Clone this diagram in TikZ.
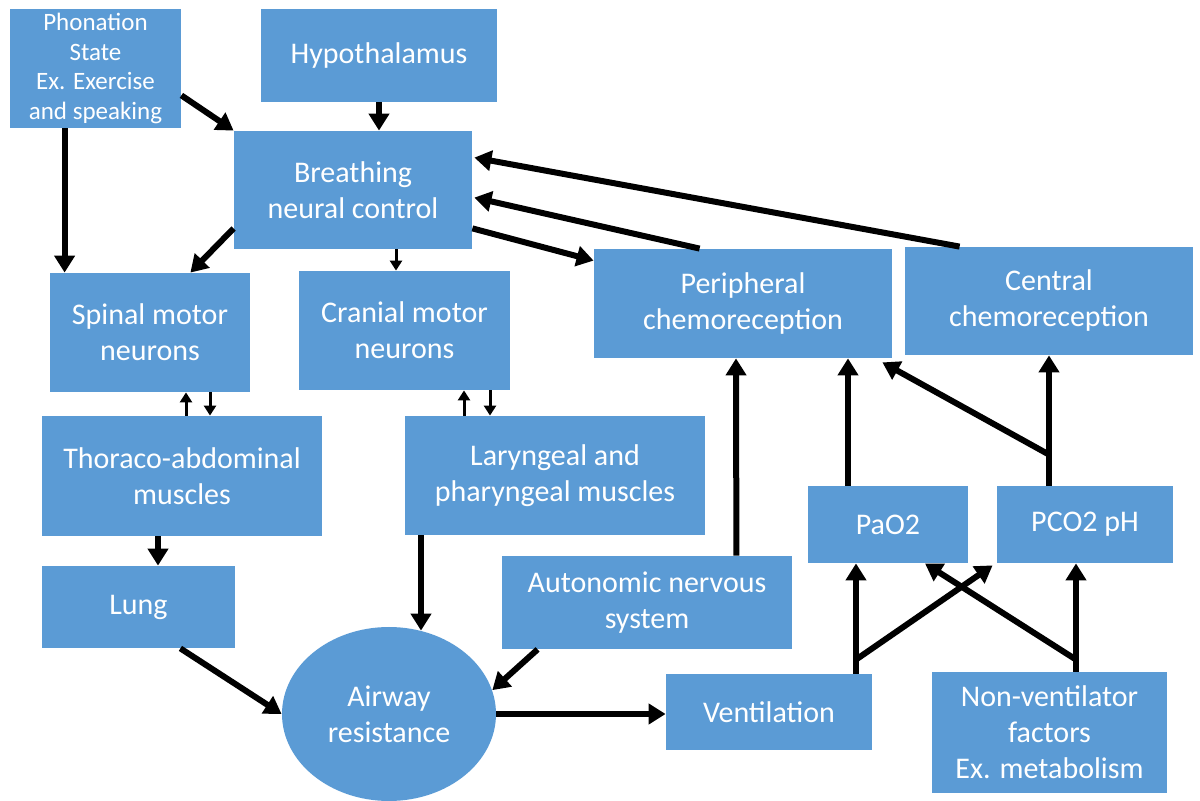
\documentclass[tikz,border=0pt]{standalone}
\usepackage{fontspec}
\setmainfont{Carlito}
\usepackage{tikz}
\usetikzlibrary{arrows.meta,calc,shapes.geometric}
\definecolor{boxblue}{RGB}{91, 155, 213}
\tikzset{
  box/.style={fill=boxblue, text=white, align=center, inner sep=0pt, font=\fontsize{15}{18}\selectfont},
  bigarrow/.style={line width=3pt, -{Triangle[length=8.5pt, width=10pt]}},
  smallarrow/.style={line width=1.5pt, -{Triangle[length=5pt, width=6pt]}},
}

\begin{document}
\begin{tikzpicture}[x=0.5pt, y=-0.5pt]
            \useasboundingbox (0,0) rectangle (1200,801);
            \node[box, minimum width=85.5pt,  minimum height=59.5pt, font=\fontsize{12.5}{14.7}\selectfont]
                 (phonation) at ( 95.5,  68.5) {Phonation\\State\\Ex. Exercise\\and speaking};
            \node[box, minimum width=118pt,   minimum height=46.5pt] (hypo)      at ( 379.0,  55.5) {Hypothalamus};
            \node[box, minimum width=119pt,   minimum height=59pt]   (breathing) at ( 353.0, 190.0) {Breathing\\neural control};
            \node[box, minimum width=100pt,   minimum height=59.5pt] (spinal)    at ( 150.0, 332.5) {Spinal motor\\neurons};
            \node[box, minimum width=105.5pt, minimum height=59.5pt] (cranial)   at ( 404.5, 330.5) {Cranial motor\\neurons};
            \node[box, minimum width=149pt,   minimum height=54.5pt] (periph)    at ( 743.0, 303.5) {Peripheral\\chemoreception};
            \node[box, minimum width=144pt,   minimum height=54pt]   (central)   at (1049.0, 301.0) {Central\\chemoreception};
            \node[box, minimum width=140pt,   minimum height=60pt]   (thoraco)   at ( 182.0, 476.0) {Thoraco-abdominal\\muscles};
            \node[box, minimum width=150pt,   minimum height=59.5pt] (laryn)     at ( 555.0, 475.5) {Laryngeal and\\pharyngeal muscles};
            \node[box, minimum width=96.5pt,  minimum height=41pt]   (lung)      at ( 138.5, 607.0) {Lung};
            \node[box, minimum width=145pt,   minimum height=46.5pt] (auton)     at ( 647.0, 602.5) {Autonomic nervous\\system};
            \node[box, minimum width=80pt,    minimum height=38.5pt] (pao)       at ( 888.0, 524.5) {PaO2};
            \node[box, minimum width=88pt,    minimum height=38.5pt] (pco)       at (1085.0, 524.5) {PCO2 pH};
            \node[box, minimum width=103pt,   minimum height=38pt]   (vent)      at ( 769.0, 712.0) {Ventilation};
            \node[box, minimum width=117.5pt, minimum height=60.5pt] (nonvent)   at (1049.5, 732.5) {Non-ventilator\\factors\\Ex. metabolism};
            \node[box, ellipse, minimum width=107pt, minimum height=87pt] (airway) at ( 389.0, 714.0) {Airway\\resistance};

            \coordinate (pcobranch)  at ($(pco.north)+(-36,-31)$);
            \coordinate (ventbranch) at ($(vent.north)+(87,-14)$);
            \coordinate (nvbranch)   at ($(nonvent.north)+(26.5,-12)$);

            \draw[bigarrow]   ($(phonation.south east)+(0,-33)$) -- (breathing.north west);
            \draw[bigarrow]   ($(phonation.south west)+(55,0)$)  -- ($(spinal.north west)+(15,0)$);
            \draw[bigarrow]   (hypo.south)                       -- (hypo.south |- breathing.north);
            \draw[bigarrow]   ($(breathing.south west)+(0,-21)$) -- ($(spinal.north east)+(-60,0)$);
            \draw[smallarrow] ($(breathing.south)+(43,0)$)       -- ($(cranial.north)+(-8.5,0)$);
            \draw[bigarrow]   ($(breathing.south east)+(0,-21)$) -- ($(periph.north west)+(0,12)$);
            \draw[bigarrow]   ($(periph.north west)+(106,0)$)    -- ($(breathing.north east)+(2,67)$);
            \draw[bigarrow]   ($(central.north west)+(55,0)$)    -- ($(breathing.north east)+(2,27)$);
            \draw[smallarrow] ($(thoraco.north)+(4,0)$)          -- ($(spinal.south)+(36,0)$);
            \draw[smallarrow] ($(spinal.south)+(60,0)$)          -- ($(thoraco.north)+(28,0)$);
            \draw[smallarrow] ($(laryn.north)+(-91,0)$)          -- ($(cranial.south)+(59.5,0)$);
            \draw[smallarrow] ($(cranial.south)+(85.5,0)$)       -- ($(laryn.north)+(-65,0)$);
            \draw[bigarrow]   ($(thoraco.south)+(-24,0)$)        -- ($(lung.north)+(19.5,0)$);
            \draw[bigarrow]   ($(laryn.south)+(-134,0)$)         -- ($(airway.north)+(32,4)$);
            \draw[bigarrow]   ($(lung.south east)+(-55,0)$)      -- (airway.west);
            \draw[bigarrow]   ($(auton.south west)+(36,0)$)      -- (airway.13);
            \draw[bigarrow]   (airway.east)                      -- (vent.west |- airway.east);
            \draw[bigarrow]   ($(auton.north east)+(-56,0)$)     -- ($(periph.south)+(-7,0)$);
            \draw[bigarrow]   ($(pao.north)+(-40,0)$)            -- ($(periph.south)+(105,0)$);
            \draw[bigarrow]   ($(pco.north)+(-36,0)$)            -- (central.south);
            \draw[bigarrow]   (pcobranch)                        -- ($(periph.south east)+(-10,4)$);
            \draw[bigarrow]   ($(vent.north)+(87,0)$)            -- ($(pao.south)+(-32,0)$);
            \draw[bigarrow]   (ventbranch)                       -- ($(pco.south west)+(-4,2)$);
            \draw[bigarrow]   ($(nonvent.north)+(26.5,0)$)       -- ($(pco.south)+(-9,0)$);
            \draw[bigarrow]   (nvbranch)                         -- ($(pao.south)+(37,0)$);
        \end{tikzpicture}
\end{document}
